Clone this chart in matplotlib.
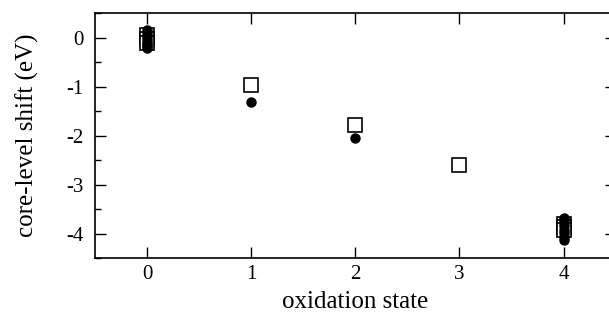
import matplotlib
matplotlib.use("Agg")
import matplotlib.pyplot as plt
from matplotlib.ticker import MultipleLocator

plt.rcParams['font.family'] = ['Liberation Serif', 'DejaVu Serif']
plt.rcParams['axes.unicode_minus'] = False

# filled circles (measured shifts)
circ_x = [0, 0, 0, 0, 0, 0, 0, 0, 1, 2, 4, 4, 4, 4, 4, 4, 4, 4]
circ_y = [0.15, 0.1, 0.04, -0.02, -0.08, -0.13, -0.18, -0.22, -1.32, -2.04,
          -3.67, -3.72, -3.78, -3.85, -3.92, -3.99, -4.06, -4.12]

# open squares (calculated shifts)
sq_x = [0, 0, 0, 1, 2, 3, 4, 4, 4]
sq_y = [0.05, -0.02, -0.1, -0.96, -1.78, -2.59, -3.8, -3.86, -3.93]

xticks = [0, 1, 2, 3, 4]
yticks = [0, -1, -2, -3, -4]

fig = plt.figure(figsize=(6.09, 3.28), dpi=100)
ax = fig.add_axes([0.156, 0.2125, 1.011 - 0.156, 0.96 - 0.2125])

ax.plot(sq_x, sq_y, 's', markerfacecolor='white', markeredgecolor='black',
        markersize=9.5, markeredgewidth=1.2, linestyle='none', zorder=3)
ax.plot(circ_x, circ_y, 'o', color='black', markersize=6.5, zorder=4)

ax.set_xlim(-0.5, 4.5)
ax.set_ylim(-4.5, 0.5)
ax.set_xticks(xticks)
ax.set_yticks(yticks)
ax.yaxis.set_minor_locator(MultipleLocator(0.5))
ax.tick_params(which='major', direction='in', length=8, width=1.0,
               top=True, right=True, labelsize=15, pad=5)
ax.tick_params(axis='y', which='major', pad=8)
ax.tick_params(which='minor', direction='in', length=4.5, width=1.0,
               left=True, right=True)
for s in ax.spines.values():
    s.set_linewidth(1.2)

ax.set_xlabel('oxidation state', fontsize=18, labelpad=5)
ax.set_ylabel('core-level shift (eV)', fontsize=18, labelpad=20)

fig.savefig('out.png', dpi=100)
